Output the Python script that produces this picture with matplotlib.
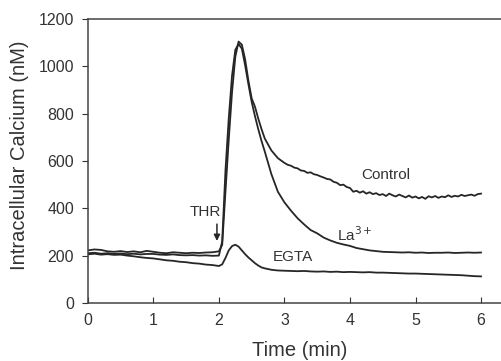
import matplotlib.pyplot as plt

# time axis (min) and traces
t_base = [0.0, 0.1, 0.2, 0.3, 0.4, 0.5, 0.6, 0.7, 0.8, 0.9, 1.0,
          1.1, 1.2, 1.3, 1.4, 1.5, 1.6, 1.7, 1.8, 1.9, 2.0]
t_peak = [2.05, 2.1, 2.15, 2.2, 2.25, 2.3, 2.35, 2.4, 2.45, 2.5, 2.55,
          2.6, 2.65, 2.7, 2.8, 2.9]
t_tail = [3.0, 3.1, 3.2, 3.3, 3.4, 3.5, 3.6, 3.7, 3.8, 3.9, 4.0,
          4.1, 4.2, 4.3, 4.4, 4.5, 4.6, 4.7, 4.8, 4.9, 5.0,
          5.1, 5.2, 5.3, 5.4, 5.5, 5.6, 5.7, 5.8, 5.9, 6.0]
t_tail_fine = [round(3.0 + 0.05 * i, 2) for i in range(61)]
time = t_base + t_peak + t_tail
time_control = t_base + t_peak + t_tail_fine

control = [222, 226, 224, 218, 216, 219, 215, 218, 214, 220, 216,
           212, 210, 214, 212, 210, 212, 211, 213, 214, 218,
           245, 470, 690, 890, 1040, 1105, 1092, 1030, 940, 865, 830,
           780, 735, 695, 645, 612,
           592, 584, 580, 572, 569, 560, 558, 550, 552, 544,
           541, 535, 530, 524, 522, 512, 508, 498, 500, 490,
           486, 470, 474, 466, 472, 462, 468, 460, 464, 456,
           460, 452, 462, 455, 450, 458, 452, 446, 454, 445,
           450, 442, 448, 440, 451, 446, 452, 444, 450, 447,
           455, 448, 453, 450, 457, 452, 455, 458, 453, 460,
           462]

la3 = [210, 212, 208, 210, 207, 209, 206, 208, 205, 207, 207,
       204, 203, 205, 202, 201, 202, 200, 201, 199, 200,
       260, 560, 780, 960, 1070, 1095, 1075, 1005, 925, 850, 790,
       735, 685, 640, 545, 470,
       425, 390, 358, 332, 308, 294, 276, 264, 254, 247, 241,
       232, 227, 222, 219, 216, 215, 214, 213, 214, 212,
       213, 211, 212, 212, 213, 211, 212, 213, 212, 213]

egta = [205, 208, 204, 206, 203, 204, 200, 197, 193, 190, 188,
        184, 180, 178, 174, 172, 168, 166, 162, 160, 156,
        163, 190, 222, 240, 246, 238, 222, 206, 192, 180, 168,
        158, 150, 146, 140, 137,
        136, 135, 134, 135, 133, 132, 133, 131, 132, 130, 131,
        130, 129, 130, 128, 128, 127, 126, 125, 124, 124,
        123, 122, 121, 120, 119, 118, 117, 115, 113, 112]

plt.rcParams['font.family'] = ['Liberation Sans', 'DejaVu Sans']

fig = plt.figure(figsize=(5.02, 3.61), dpi=100)
ax = fig.add_axes([0.175, 0.161, 0.825, 0.786])

lc = '#262626'
tc = '#333333'
ax.plot(time_control, control, color=lc, lw=1.3)
ax.plot(time, la3, color=lc, lw=1.3)
ax.plot(time, egta, color=lc, lw=1.3)

ax.text(4.55, 541, 'Control', fontsize=11, color=tc, ha='center', va='center')
ax.text(4.08, 290, 'La$^{3+}$', fontsize=11, color=tc, ha='center', va='center')
ax.text(3.13, 196, 'EGTA', fontsize=11, color=tc, ha='center', va='center')
ax.text(1.80, 386, 'THR', fontsize=11, color=tc, ha='center', va='center')
ax.annotate('', xy=(1.97, 250), xytext=(1.97, 345),
            arrowprops=dict(arrowstyle='-|>', color=lc, lw=1.1,
                            mutation_scale=9))

ax.set_xlim(0, 6.32)
ax.set_ylim(0, 1200)
ax.set_xticks([0, 1, 2, 3, 4, 5, 6])
ax.set_yticks([0, 200, 400, 600, 800, 1000, 1200])
ax.tick_params(axis='y', direction='out', length=4, labelsize=11.5,
               colors=tc, pad=6)
ax.tick_params(axis='x', direction='in', length=4, labelsize=11.5,
               colors=tc, pad=7)
ax.spines['right'].set_visible(False)
for s in ['left', 'top', 'bottom']:
    ax.spines[s].set_color('#444444')
    ax.spines[s].set_linewidth(1.1)

ax.set_xlabel('Time (min)', fontsize=14.5, color=tc)
ax.set_ylabel('Intracellular Calcium (nM)', fontsize=14.5, color=tc)
ax.xaxis.set_label_coords(0.512, -0.135)
ax.yaxis.set_label_coords(-0.142, 0.52)

fig.savefig('out.png', dpi=100)
